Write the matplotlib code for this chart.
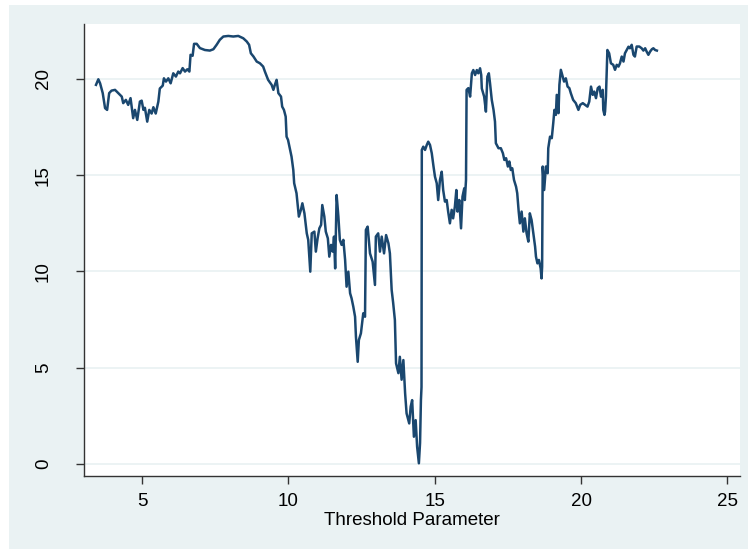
import matplotlib.pyplot as plt
from matplotlib.patches import Rectangle

# threshold parameter vs. value
thresh = [
    3.43, 3.51, 3.57, 3.66, 3.74, 3.81, 3.88, 3.96, 4.08, 4.19, 4.31, 4.36, 4.45, 4.53,
    4.61, 4.70, 4.76, 4.84, 4.93, 4.99, 5.05, 5.10, 5.18, 5.25, 5.33, 5.39, 5.47, 5.56,
    5.61, 5.71, 5.75, 5.82, 5.90, 5.98, 6.07, 6.16, 6.24, 6.30, 6.39, 6.47, 6.55, 6.62,
    6.66, 6.73, 6.78, 6.87, 6.98, 7.15, 7.32, 7.44, 7.55, 7.66, 7.78, 7.95, 8.12, 8.29,
    8.46, 8.58, 8.66, 8.72, 8.81, 8.92, 9.03, 9.14, 9.20, 9.31, 9.43, 9.49, 9.54, 9.60,
    9.66, 9.75, 9.79, 9.85, 9.91, 9.94, 9.99, 10.06, 10.11, 10.17, 10.20, 10.28, 10.36,
    10.43, 10.48, 10.55, 10.63, 10.68, 10.75, 10.80, 10.89, 10.94, 11.00, 11.06, 11.12,
    11.16, 11.23, 11.28, 11.35, 11.40, 11.46, 11.52, 11.56, 11.60, 11.65, 11.71, 11.76,
    11.82, 11.88, 11.94, 11.99, 12.05, 12.11, 12.16, 12.22, 12.28, 12.31, 12.37, 12.41,
    12.48, 12.56, 12.62, 12.65, 12.71, 12.79, 12.88, 12.96, 12.99, 13.07, 13.13, 13.19,
    13.27, 13.34, 13.42, 13.47, 13.53, 13.58, 13.64, 13.68, 13.76, 13.81, 13.87, 13.93,
    13.99, 14.04, 14.13, 14.18, 14.23, 14.29, 14.35, 14.40, 14.46, 14.50, 14.53, 14.55,
    14.56, 14.61, 14.67, 14.73, 14.78, 14.84, 14.90, 14.96, 15.01, 15.07, 15.12, 15.18,
    15.24, 15.29, 15.35, 15.41, 15.46, 15.52, 15.58, 15.63, 15.69, 15.74, 15.78, 15.84,
    15.90, 15.95, 16.01, 16.03, 16.07, 16.09, 16.15, 16.21, 16.27, 16.32, 16.38, 16.44,
    16.49, 16.55, 16.59, 16.61, 16.69, 16.75, 16.80, 16.85, 16.89, 16.95, 17.01, 17.06,
    17.09, 17.18, 17.26, 17.33, 17.38, 17.44, 17.50, 17.55, 17.60, 17.65, 17.71, 17.78,
    17.82, 17.87, 17.91, 17.97, 18.03, 18.08, 18.14, 18.20, 18.25, 18.31, 18.37, 18.43,
    18.46, 18.51, 18.56, 18.62, 18.65, 18.67, 18.69, 18.74, 18.80, 18.86, 18.88, 18.94,
    19.00, 19.05, 19.09, 19.14, 19.17, 19.23, 19.26, 19.31, 19.36, 19.42, 19.48, 19.54,
    19.60, 19.65, 19.73, 19.82, 19.91, 19.97, 20.06, 20.14, 20.22, 20.28, 20.34, 20.40,
    20.45, 20.51, 20.57, 20.63, 20.68, 20.74, 20.76, 20.80, 20.82, 20.85, 20.90, 20.96,
    21.02, 21.10, 21.16, 21.22, 21.28, 21.33, 21.39, 21.45, 21.50, 21.56, 21.62, 21.67,
    21.73, 21.79, 21.84, 21.90, 21.99, 22.07, 22.13, 22.19, 22.24, 22.30, 22.36, 22.42,
    22.47, 22.53, 22.59,
]
value = [
    19.69, 19.98, 19.77, 19.26, 18.48, 18.39, 19.26, 19.39, 19.43, 19.26, 19.08, 18.74, 18.91, 18.65,
    19.00, 17.96, 18.39, 17.87, 18.82, 18.87, 18.39, 18.50, 17.78, 18.39, 18.20, 18.53, 18.20, 18.82,
    19.50, 19.65, 20.03, 19.86, 20.03, 19.77, 20.29, 20.12, 20.38, 20.29, 20.56, 20.38, 20.50, 20.38,
    21.25, 21.20, 21.82, 21.82, 21.60, 21.50, 21.47, 21.54, 21.77, 22.03, 22.20, 22.23, 22.20, 22.23,
    22.11, 21.94, 21.77, 21.33, 21.16, 20.90, 20.81, 20.64, 20.38, 19.95, 19.69, 19.43, 19.69, 19.95,
    19.26, 19.08, 18.56, 18.39, 18.04, 17.00, 16.83, 16.31, 15.96, 15.27, 14.58, 14.06, 12.85,
    13.20, 13.54, 13.02, 11.98, 11.64, 9.99, 11.98, 12.07, 11.03, 11.72, 12.24, 12.42,
    13.45, 12.85, 12.07, 11.72, 10.77, 11.38, 11.03, 11.81, 10.16, 13.97, 12.85, 11.64,
    11.38, 11.64, 10.60, 9.21, 9.99, 8.87, 8.61, 8.17, 7.65, 6.61, 5.31, 6.44,
    6.79, 7.83, 7.65, 12.16, 12.33, 10.94, 10.51, 9.30, 11.81, 11.98, 11.03, 11.81,
    10.94, 11.89, 11.46, 10.94, 9.04, 8.39, 7.48, 5.23, 4.72, 5.57, 4.38, 5.40,
    3.67, 2.63, 2.11, 2.98, 3.32, 1.42, 2.28, 0.90, 0.04, 1.10, 3.32, 4.00,
    16.31, 16.48, 16.31, 16.57, 16.74, 16.57, 16.14, 15.45, 14.92, 14.58, 13.71, 14.75,
    15.18, 14.23, 13.63, 13.71, 13.11, 12.50, 13.20, 12.76, 13.37, 14.23, 13.11, 13.71,
    12.24, 13.89, 14.32, 13.71, 14.75, 19.43, 19.52, 19.08, 20.29, 20.46, 20.20, 20.46,
    20.29, 20.55, 20.20, 19.50, 19.08, 18.30, 20.12, 20.29, 19.78, 18.91, 18.39, 17.78,
    16.66, 16.40, 16.40, 16.14, 15.79, 15.88, 15.45, 15.71, 15.27, 15.36, 14.75, 14.40,
    14.06, 13.11, 12.50, 13.11, 12.07, 12.76, 11.98, 11.55, 13.02, 12.67, 11.98, 11.29,
    10.77, 10.42, 10.60, 10.16, 9.64, 10.25, 15.45, 14.23, 15.45, 15.10, 16.40, 17.00,
    16.92, 17.70, 18.39, 18.13, 19.17, 18.22, 19.69, 20.47, 20.20, 19.86, 20.03, 19.60,
    19.52, 19.26, 18.91, 18.74, 18.39, 18.65, 18.74, 18.65, 18.56, 18.82, 19.60, 19.17,
    19.34, 19.00, 19.52, 19.60, 19.08, 19.43, 18.39, 18.13, 18.30, 19.08, 21.50, 21.33,
    20.81, 20.73, 20.47, 20.73, 20.64, 20.81, 21.16, 20.90, 21.33, 21.50, 21.67, 21.59,
    21.77, 21.25, 21.16, 21.68, 21.68, 21.59, 21.47, 21.59, 21.42, 21.25, 21.42, 21.54,
    21.59, 21.50, 21.47,
]
x_ticks = [5, 10, 15, 20, 25]
y_ticks = [0, 5, 10, 15, 20]

bg = "#eaf2f3"
navy = "#1a476f"
plt.rcParams["font.family"] = ["Liberation Sans", "DejaVu Sans"]

fig = plt.figure(figsize=(7.48, 5.49), dpi=100, facecolor="white")
# light graph region with a thin white rim on the left and top
fig.patches.append(Rectangle((9 / 748, 0), 1, (549 - 5) / 549, transform=fig.transFigure,
                             facecolor=bg, edgecolor="none", zorder=-10))
ax = fig.add_axes([84 / 748, 1 - 476 / 549, (740 - 84) / 748, (476 - 24) / 549])
ax.set_facecolor("white")

ax.plot(thresh, value, color=navy, lw=1.8)

ax.set_xlim(3.02, 25.43)
ax.set_ylim(-0.62, 22.85)
ax.set_xticks(x_ticks)
ax.set_yticks(y_ticks)
ax.grid(axis="y", color=bg, lw=1.3)
ax.set_axisbelow(True)

for side in ["top", "right"]:
    ax.spines[side].set_visible(False)
for side in ["left", "bottom"]:
    ax.spines[side].set_color("#333333")
    ax.spines[side].set_linewidth(1.0)

ax.tick_params(axis="x", length=6, width=1, color="#333333", labelsize=13.5, pad=6)
ax.tick_params(axis="y", length=6, width=1, color="#333333", labelsize=13.5, pad=17)
for lab in ax.get_yticklabels():
    lab.set_rotation(90)
    lab.set_va("center")

ax.set_xlabel("Threshold Parameter", fontsize=13.5, labelpad=2)

fig.savefig("out.png", dpi=100, facecolor=fig.get_facecolor())
